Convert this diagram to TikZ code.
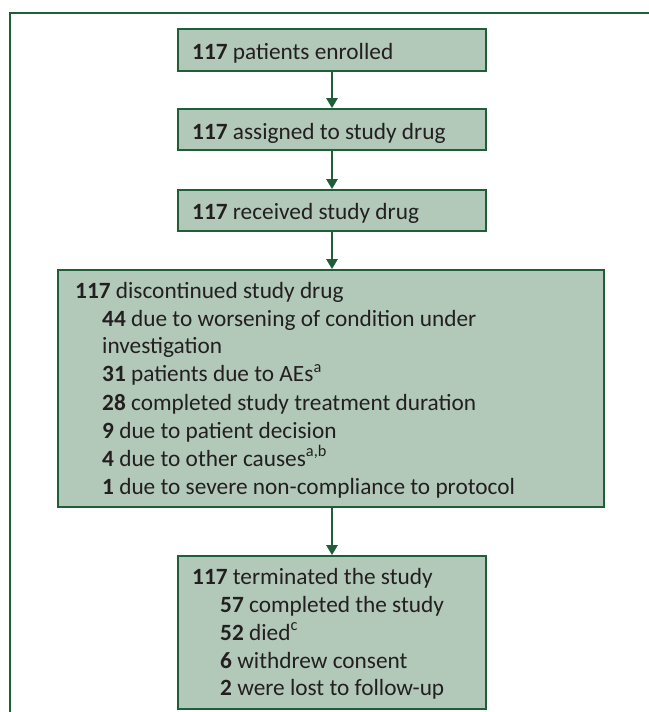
\documentclass[tikz,border=0pt]{standalone}
\usepackage{fontspec}
\setmainfont{Carlito}
\usetikzlibrary{arrows.meta}
\definecolor{boxfill}{RGB}{178,201,185}
\definecolor{boxline}{RGB}{30,94,56}
\definecolor{txt}{RGB}{35,31,32}
\tikzset{
  box/.style={draw=boxline, fill=boxfill, line width=1.7pt, inner sep=0pt},
  lbl/.style={anchor=base west, inner sep=0pt, text=txt, font=\fontsize{23.3}{27}\selectfont},
  flow/.style={draw=boxline, line width=2.6pt, -{Triangle[width=11pt,length=10pt]}},
  frame/.style={draw=boxline, line width=2.2pt}
}
\begin{document}
\begin{tikzpicture}[x=1pt,y=-1pt]
\useasboundingbox (0,0) rectangle (648,712);
% frame
\coordinate (fa) at (10,740);
\coordinate (fb) at (10,13);
\coordinate (fc) at (660,13);
\draw[frame] (fa) -- (fb) -- (fc);
% boxes
\node[box, minimum width=308pt, minimum height=42pt] (b1) at (332,50) {};
\node[box, minimum width=308pt, minimum height=41pt] (b2) at (332,129.5) {};
\node[box, minimum width=308pt, minimum height=41pt] (b3) at (332,210.5) {};
\node[box, minimum width=546pt, minimum height=237pt] (b4) at (331,388.5) {};
\node[box, minimum width=308pt, minimum height=153pt] (b5) at (332,632.5) {};
% arrows
\draw[flow] (b1.south) -- (b2.north);
\draw[flow] (b2.south) -- (b3.north);
\draw[flow] (b3.south) -- (b4.north -| b3.south);
\draw[flow] (b4.south -| b5.north) -- (b5.north);
% texts
\node[lbl] (t1) at (192,59) {\textbf{117} patients enrolled};
\node[lbl] (t2) at (192,139) {\textbf{117} assigned to study drug};
\node[lbl] (t3) at (192,219) {\textbf{117} received study drug};
\node[lbl] (t4a) at (75,298) {\textbf{117} discontinued study drug};
\node[lbl] (t4b) at (102,326) {\textbf{44} due to worsening of condition under};
\node[lbl] (t4c) at (102,353.5) {investigation};
\node[lbl] (t4d) at (102,381.5) {\textbf{31} patients due to AEs\textsuperscript{a}};
\node[lbl] (t4e) at (102,410.5) {\textbf{28} completed study treatment duration};
\node[lbl] (t4f) at (102,438) {\textbf{9} due to patient decision};
\node[lbl] (t4g) at (102,466) {\textbf{4} due to other causes\textsuperscript{a,b}};
\node[lbl] (t4h) at (102,494) {\textbf{1} due to severe non-compliance to protocol};
\node[lbl] (t5a) at (192,584) {\textbf{117} terminated the study};
\node[lbl] (t5b) at (220,612) {\textbf{57} completed the study};
\node[lbl] (t5c) at (220,640) {\textbf{52} died\textsuperscript{c}};
\node[lbl] (t5d) at (220,668) {\textbf{6} withdrew consent};
\node[lbl] (t5e) at (220,695) {\textbf{2} were lost to follow-up};
\end{tikzpicture}
\end{document}
